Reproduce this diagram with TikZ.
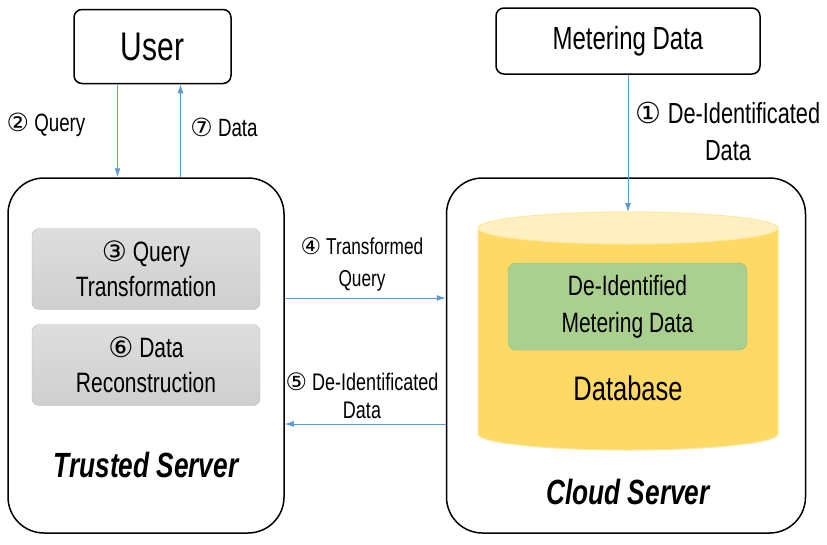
\documentclass[tikz,border=0pt]{standalone}
\usepackage{fontspec}
\setmainfont[FakeStretch=0.75]{Liberation Sans}
\newfontfamily\circfont{DejaVu Sans}
\usetikzlibrary{arrows.meta}
\definecolor{flowblue}{HTML}{5B9BD5}
\definecolor{boxgray}{HTML}{CFCFCF}
\definecolor{boxgrayb}{HTML}{BDBDBD}
\definecolor{dbgreen}{HTML}{A9D08E}
\definecolor{dbgreenb}{HTML}{8DBF78}
\definecolor{dbyellow}{HTML}{FFD966}
\definecolor{dbtopc}{HTML}{FFF0C4}
\definecolor{dbedge}{HTML}{FFE89A}
\newcommand{\cnum}[1]{{\circfont #1}}
\begin{document}
\begin{tikzpicture}[x=1pt, y=-1pt,
    flow/.style={-{Latex[length=9pt,width=6pt]}, draw=flowblue, line width=1pt},
    lbl/.style={align=center, font=\fontsize{25}{30}\selectfont}]
        \tikzset{ent/.style={rectangle, rounded corners=8pt, draw=black, line width=1.5pt},
            server/.style={rectangle, rounded corners=36pt, draw=black, line width=1.5pt,
                minimum width=276pt, minimum height=355pt},
            proc/.style={rectangle, rounded corners=7pt, draw=boxgrayb, top color=boxgray!70,
                bottom color=boxgray, minimum width=228pt, minimum height=81pt, align=center,
                font=\fontsize{28}{35}\selectfont},
            title/.style={font=\fontsize{35}{40}\selectfont\bfseries\itshape}};
        \useasboundingbox (0, 0) rectangle (827, 544);

        % outer boxes
        \node[ent, minimum width=157pt, minimum height=74pt, font=\fontsize{40}{44}\selectfont]
            (user) at (152.5, 46.5) {User};
        \node[ent, minimum width=264pt, minimum height=66pt, font=\fontsize{32}{36}\selectfont]
            (meter) at (628, 41) {Metering Data};
        \node[server] (trusted) at (146, 355.5) {};
        \node[server, minimum width=359pt] (cloud) at (626, 355.5) {};

        % trusted server
        \node[proc] (qtrans) at (146, 269) {\cnum{③} Query\\Transformation};
        \node[proc] (drecon) at (146, 365) {\cnum{⑥} Data\\Reconstruction};
        \node[title] (tname) at (146, 465) {Trusted Server};

        % cloud server database
        \draw[draw=dbedge, line width=1pt, fill=dbyellow] (478, 228) -- (478, 434)
            arc[start angle=180, end angle=360, x radius=150, y radius=-16] -- (778, 228);
        \draw[draw=dbedge, line width=1pt, fill=dbtopc] (628, 228) ellipse[x radius=150, y radius=16];
        \coordinate (dbtop) at (628, 212);
        \node[rectangle, rounded corners=8pt, draw=dbgreenb, fill=dbgreen, minimum width=239pt,
            minimum height=87pt, align=center, font=\fontsize{28}{37}\selectfont]
            (deid) at (627.5, 306.5) {De-Identified\\Metering Data};
        \node[font=\fontsize{34}{40}\selectfont] (dbname) at (628, 388) {Database};
        \node[title] (cname) at (628, 492) {Cloud Server};

        % flows
        \draw[flow] ([xshift=-35pt]user.south) -- ([xshift=-35pt]user.south |- trusted.north);
        \draw[flow] ([xshift=28pt]user.south |- trusted.north) -- ([xshift=28pt]user.south);
        \draw[flow] (meter.south) -- (dbtop);
        \draw[flow] ([yshift=57.5pt]trusted.east) -- ([yshift=57.5pt]trusted.east -| cloud.west);
        \draw[flow] ([yshift=-68.5pt]trusted.east -| cloud.west) -- ([yshift=-68.5pt]trusted.east);

        \node[lbl] (lquery) at (46, 125) {\cnum{②} Query};
        \node[lbl] (ldata) at (224, 127) {\cnum{⑦} Data};
        \node[lbl, font=\fontsize{29}{37}\selectfont] (ldeid) at (728, 131) {\cnum{①} De-Identificated\\Data};
        \node[lbl, font=\fontsize{23}{32}\selectfont] (ltq) at (362, 264) {\cnum{④} Transformed\\Query};
        \node[lbl, font=\fontsize{24}{28}\selectfont] (lret) at (362, 396) {\cnum{⑤} De-Identificated\\Data};
    \end{tikzpicture}
\end{document}
